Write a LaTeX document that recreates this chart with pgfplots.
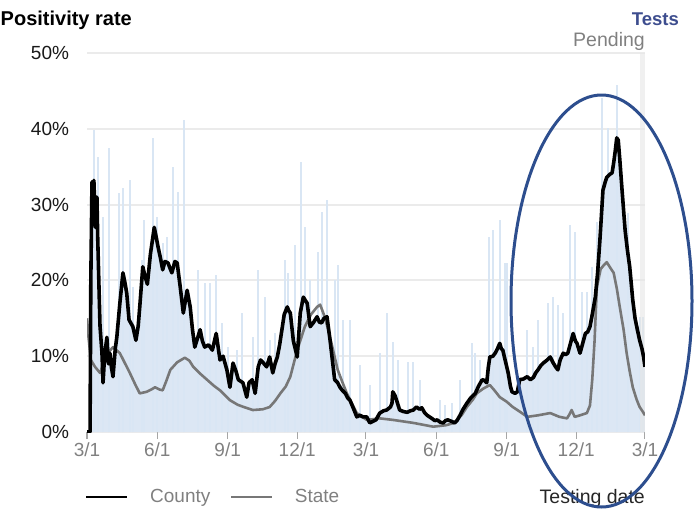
\documentclass[border=0pt]{standalone}
\usepackage{pgfplots}
\pgfplotsset{compat=1.18}
\usepackage{fontspec}
\setmainfont{Liberation Sans}
\definecolor{fillblue}{HTML}{DCE7F4}
\definecolor{spikeblue}{HTML}{D9E6F4}
\definecolor{stategray}{HTML}{777777}
\definecolor{ellblue}{HTML}{2D4E8E}
\definecolor{testsblue}{HTML}{3D4D8E}
\definecolor{gridgray}{HTML}{EBEBEB}
\definecolor{labgray}{HTML}{808080}
\definecolor{bandgray}{HTML}{E6E6E6}

\pgfplotstableread{
day val
0 0
4 0
5 20
6.5 33
8 31
9 33.2
11 27
13 31
14 25.7
17 14
19.6 10.4
21 6.5
23 10
26 12.5
28 9
30 10.4
32 8.5
34 7.3
37 11
39 12.5
43 17
47 21
50 19.5
52 18.3
55 14.8
60 13.9
64 12.1
67 14
69 16.5
73 21.8
76 20.5
79 19.5
83 23.5
88 27
90 26
93 24.4
96 23
99 21.4
102 22.5
106 22.3
109 21.5
111 21
115 22.5
118 22.3
122 19.1
126 15.7
131 18.7
135 16.5
138 13.5
141 11.2
145 12.5
148 13.5
151 12
154 11.2
159 11.5
164 10.8
169 13
174 9.5
178 10
183 8.2
187 5.9
191 9.1
195 8
198 6.9
204 6.5
209 4.6
212 6.5
216 6.9
220 5.1
224 8.6
227 9.5
230 9.2
235 8.6
239 9.9
243 7.8
246 9
249 9.9
252 11.5
255 13.5
258 15.5
262 16.5
264 16
266 15.7
270 12
275 9.9
279 15.7
283 17.8
286 17.3
288 17
292 13.9
296 14.4
301 15.2
304 14.5
307 14.4
310 15
314 15.2
318 12.1
321 9.5
324 6.9
328 6.5
331 5.9
334 5.5
338 5.1
341 4.5
344 4.2
349 3
353 2
357 2.2
361 2
366 2
370 1.2
374 1.4
378 1.6
383 2.5
388 2.8
392 2.9
397 3.3
399 3.8
400 5.3
403 4.8
405 4.2
409 2.9
414 2.7
419 2.6
423 2.8
427 2.9
431 3.3
435 3
438 3.2
442 2.5
445 2.2
448 2
451 1.8
455 1.5
458 1.6
462 1.3
466 1.2
469 1.5
472 1.6
477 1.4
481 1.2
484 1.5
488 2.2
492 3
497 3.8
502 4.5
508 5.1
512 6
517 6.9
520 6.8
523 6.5
525 8.5
527 9.9
531 10
534 10.4
537 11
540 11.7
542 11
544 10.8
547 9.5
551 7.8
554 6
556 5.3
560 5.1
563 5.3
566 6.9
571 7
576 7.3
580 6.9
584 7.2
587 7.8
590 8.2
594 8.8
597 9.1
602 9.5
606 9.9
610 9.1
613 8.6
616 8.2
619 9.5
623 10.4
626 10.2
629 10.4
632 11.5
636 13
639 12
641 11.7
645 10.4
648 11.5
652 13
655 13.2
658 13.9
661 15.5
665 17.8
668 21
671 25.3
675 31.9
678 33
680 33.6
684 34
687 34.2
689 35.5
691 37
693 38.8
695 38.5
697 36
700 31.9
704 26.6
707 24
710 21.8
714 17.4
717 15
720 13.5
723 12.1
726 11
728 10
730 8.6
}\countydata

\pgfplotstableread{
day val
0 15
2 12.5
5 9.5
10.5 8.6
17 7.8
22 9
28 10.5
34 11.2
43 10.4
50 9
56 7.8
63 6.3
69 5.1
78 5.3
84 5.6
89 5.9
95 5.6
99 5.5
104 6.8
109 8.2
118 9.2
128 9.8
134 9.4
139 8.6
148 7.7
157 6.9
166 6.1
174 5.5
181 4.8
187 4.2
197 3.6
205 3.3
217 2.9
230 3.0
239 3.3
246 4.1
253 5.1
260 6.0
266 7.3
275 10.8
285 13.9
293 15.5
301 16.5
305 16.8
311 15.2
316 13.3
321 11.2
328 8.2
334 6.6
340 5.1
347 3.7
353 2.5
360 2
366 1.6
383 1.8
400 1.6
427 1.2
453 0.7
470 0.9
480 1.2
490 2.2
497 3.3
505 4.3
510 5.1
518 5.7
527 6.2
533 5.5
540 4.6
549 4.0
557 3.3
566 2.7
576 2.0
590 2.2
606 2.5
618 2.0
628 1.8
631 2.3
634 2.9
638 2.0
645 2.2
654 2.5
658 3.5
661 6.9
664 12
667 19.1
672 21.5
676 22
680 22.4
685 21.6
689 21
693 19
697 16.5
702 13.5
706 10.4
710 8
714 5.9
719 4.3
723 3.3
727 2.7
730 2.2
}\statedata

\pgfplotstableread{
day val
9.2 39.8
14.4 36.3
20.9 28.4
28.8 37.5
41.9 31.5
47.1 32.2
56.3 33.2
60.2 19.1
72 22.7
74.6 28
86.3 38.8
91.6 28.4
99.4 24.9
104.7 25.7
112.5 35
119 31.7
126.9 41.2
145.2 21.4
154.4 19.7
160.9 19.7
168.8 20.7
176.6 14.4
184.5 11.2
196.2 10.8
202.8 15.7
217.2 12.5
223.7 21.4
232.9 17.8
239.4 12.1
246 13
259 22.7
263 21
272.1 24.7
280 35.6
285.2 27
291.7 20
302.2 23.7
307.4 29
314 30.6
324.4 20
328.4 22
334.9 14.8
344.1 14.8
357.1 8.8
370.2 6.2
383.3 10.4
392.5 15.7
400.3 11.9
406.9 9.5
420 9.2
426.5 9.2
435.6 6.9
461.8 4.2
468.3 3.6
477.5 3.8
488 6.9
503.7 11.7
507.6 10.4
514.1 9.5
525.9 25.7
531.1 26.6
540.3 28
546.8 22.3
549.4 22.3
575.6 13.5
583.5 11.2
590 14.8
603.1 17
609.6 17.8
616.2 16.8
622.7 15.7
631.9 27.3
638.4 26.4
647.6 18.5
654.1 18.5
660.7 21.8
667.2 27.7
673.7 44
681.6 40.1
693.4 45.8
707.7 28.9
723.4 15.2
727.3 15.2
}\spikedata

\begin{document}
\begin{tikzpicture}
\useasboundingbox (0,0) rectangle (696pt,-509pt);
\begin{axis}[
  at={(87pt,-432pt)}, anchor=south west,
  scale only axis, width=558pt, height=379pt,
  xmin=0, xmax=730, ymin=0, ymax=50,
  axis x line*=bottom, axis y line*=left,
  axis line style={draw=none},
  ymajorgrids, grid style={gridgray, line width=2pt},
  xtick={0,92,184,275,365,457,549,640,730},
  xticklabels={3/1,6/1,9/1,12/1,3/1,6/1,9/1,12/1,3/1},
  ytick={0,10,20,30,40,50},
  yticklabels={0\%,10\%,20\%,30\%,40\%,50\%},
  xtick align=outside, major tick length=7pt,
  xtick style={draw=gray!70, line width=1pt},
  ytick style={draw=none},
  xticklabel style={font=\fontsize{19}{22}\selectfont, text=labgray},
  yticklabel style={font=\fontsize{19}{22}\selectfont, text=black!90, xshift=-14.5pt},
  legend style={at={(-0.0036,-0.1715)}, anchor=west, draw=none, fill=none,
    inner sep=0pt, font=\fontsize{19}{22}\selectfont, text=labgray,
    nodes={inner sep=0pt},
    /tikz/every odd column/.append style={column sep=22pt},
    /tikz/every even column/.append style={column sep=20pt}},
  legend columns=2,
  legend image code/.code={\draw[#1] (0pt,0pt) -- (41pt,0pt);},
]
\addplot[fill=fillblue, draw=none, forget plot] table[x=day, y=val] {\countydata} \closedcycle;
\addplot[ycomb, draw=spikeblue, line width=2.8pt, forget plot] table[x=day, y=val] {\spikedata};
\addplot[fill=bandgray, fill opacity=0.6, draw=none, forget plot] coordinates {(723,50) (730.5,50)} \closedcycle;
\addplot[stategray, line width=2.6pt, line join=round, forget plot] table[x=day, y=val] {\statedata};
\addplot[black, line width=3.6pt, line join=round, forget plot] table[x=day, y=val] {\countydata};
\addlegendimage{black, line width=2pt}
\addlegendentry{County}
\addlegendimage{stategray, line width=1.5pt}
\addlegendentry{State}
\end{axis}
\node[anchor=base west, inner sep=0pt, font=\bfseries\fontsize{20}{24}\selectfont] at (0.5pt,-25pt) {Positivity rate};
\node[anchor=base east, inner sep=0pt, font=\bfseries\fontsize{18.5}{22}\selectfont, text=testsblue] at (679pt,-25pt) {Tests};
\node[anchor=base east, inner sep=0pt, font=\fontsize{19.5}{22}\selectfont, text=labgray] at (645pt,-46pt) {Pending};
\node[anchor=base east, inner sep=0pt, font=\fontsize{19.5}{22}\selectfont, text=black!85] at (645pt,-503pt) {Testing date};
\draw[ellblue, line width=3pt] (601.5pt,-301pt) ellipse [x radius=90.5pt, y radius=206pt];
\end{tikzpicture}
\end{document}
